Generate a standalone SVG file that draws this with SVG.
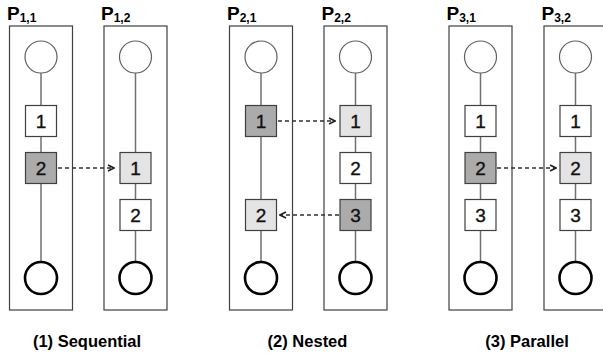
<svg xmlns="http://www.w3.org/2000/svg" width="603" height="356" viewBox="0 0 603 356">
<defs>
<style>
.box{fill:#fff;stroke:#404040;stroke-width:1.2}
.spine{stroke:#707070;stroke-width:1.5}
.top{fill:#fff;stroke:#606060;stroke-width:1.2}
.end{fill:#fff;stroke:#000;stroke-width:2.6}
.sq{stroke:#404040;stroke-width:1.2}
.w{fill:#fff}.d{fill:#ababab}.l{fill:#e4e4e4}
.num{font-family:"Liberation Sans",Arial,sans-serif;font-size:19px;fill:#111;stroke:#111;stroke-width:0.35;text-anchor:middle}
.ttl{font-family:"Liberation Sans",Arial,sans-serif;font-size:19px;font-weight:bold;fill:#000}
.sub{font-size:12px}
.cap{font-family:"Liberation Sans",Arial,sans-serif;font-size:16.5px;font-weight:bold;fill:#000;text-anchor:middle}
.arr{stroke:#303030;stroke-width:1.5;stroke-dasharray:4 3;fill:none}
</style>
<marker id="ah" viewBox="0 0 8 8" refX="7" refY="4" markerWidth="8" markerHeight="8" markerUnits="userSpaceOnUse" orient="auto">
<path d="M1,1 L7,4 L1,7" fill="none" stroke="#202020" stroke-width="1.6"/>
</marker>
</defs>
<rect width="603" height="356" fill="#fff"/>

<g id="p11">
<rect class="box" x="9.5" y="26" width="63" height="284"/>
<line class="spine" x1="41" y1="73" x2="41" y2="262"/>
<circle class="top" cx="41" cy="57" r="16"/>
<circle class="end" cx="41" cy="278" r="16"/>
<rect class="sq w" x="25.5" y="105.5" width="31" height="31"/><text class="num" x="41" y="128">1</text>
<rect class="sq d" x="25.5" y="152.5" width="31" height="31"/><text class="num" x="41" y="175">2</text>
<text class="ttl" x="7" y="20">P<tspan class="sub" dy="2">1,1</tspan></text>
</g>
<g id="p12">
<rect class="box" x="104" y="26" width="63" height="284"/>
<line class="spine" x1="135.5" y1="73" x2="135.5" y2="262"/>
<circle class="top" cx="135.5" cy="57" r="16"/>
<circle class="end" cx="135.5" cy="278" r="16"/>
<rect class="sq l" x="120" y="152.5" width="31" height="31"/><text class="num" x="135.5" y="175">1</text>
<rect class="sq w" x="120" y="199.5" width="31" height="31"/><text class="num" x="135.5" y="222">2</text>
<text class="ttl" x="101" y="20">P<tspan class="sub" dy="2">1,2</tspan></text>
</g>

<g id="p21">
<rect class="box" x="229.5" y="26" width="63" height="284"/>
<line class="spine" x1="261" y1="73" x2="261" y2="262"/>
<circle class="top" cx="261" cy="57" r="16"/>
<circle class="end" cx="261" cy="278" r="16"/>
<rect class="sq d" x="245.5" y="105.5" width="31" height="31"/><text class="num" x="261" y="128">1</text>
<rect class="sq l" x="245.5" y="199.5" width="31" height="31"/><text class="num" x="261" y="222">2</text>
<text class="ttl" x="227" y="20">P<tspan class="sub" dy="2">2,1</tspan></text>
</g>
<g id="p22">
<rect class="box" x="324" y="26" width="63" height="284"/>
<line class="spine" x1="355.5" y1="73" x2="355.5" y2="262"/>
<circle class="top" cx="355.5" cy="57" r="16"/>
<circle class="end" cx="355.5" cy="278" r="16"/>
<rect class="sq l" x="340" y="105.5" width="31" height="31"/><text class="num" x="355.5" y="128">1</text>
<rect class="sq w" x="340" y="152.5" width="31" height="31"/><text class="num" x="355.5" y="175">2</text>
<rect class="sq d" x="340" y="199.5" width="31" height="31"/><text class="num" x="355.5" y="222">3</text>
<text class="ttl" x="321.5" y="20">P<tspan class="sub" dy="2">2,2</tspan></text>
</g>

<g id="p31">
<rect class="box" x="449" y="26" width="63" height="284"/>
<line class="spine" x1="480.5" y1="73" x2="480.5" y2="262"/>
<circle class="top" cx="480.5" cy="57" r="16"/>
<circle class="end" cx="480.5" cy="278" r="16"/>
<rect class="sq w" x="465" y="105.5" width="31" height="31"/><text class="num" x="480.5" y="128">1</text>
<rect class="sq d" x="465" y="152.5" width="31" height="31"/><text class="num" x="480.5" y="175">2</text>
<rect class="sq w" x="465" y="199.5" width="31" height="31"/><text class="num" x="480.5" y="222">3</text>
<text class="ttl" x="446.5" y="20">P<tspan class="sub" dy="2">3,1</tspan></text>
</g>
<g id="p32">
<rect class="box" x="544" y="26" width="63" height="284"/>
<line class="spine" x1="575.5" y1="73" x2="575.5" y2="262"/>
<circle class="top" cx="575.5" cy="57" r="16"/>
<circle class="end" cx="575.5" cy="278" r="16"/>
<rect class="sq w" x="560" y="105.5" width="31" height="31"/><text class="num" x="575.5" y="128">1</text>
<rect class="sq l" x="560" y="152.5" width="31" height="31"/><text class="num" x="575.5" y="175">2</text>
<rect class="sq w" x="560" y="199.5" width="31" height="31"/><text class="num" x="575.5" y="222">3</text>
<text class="ttl" x="541.5" y="20">P<tspan class="sub" dy="2">3,2</tspan></text>
</g>

<g id="connectors">
<line class="arr" x1="58" y1="168" x2="114" y2="168" marker-end="url(#ah)"/>
<line class="arr" x1="278" y1="121" x2="335" y2="121" marker-end="url(#ah)"/>
<line class="arr" x1="339" y1="215" x2="280" y2="215" marker-end="url(#ah)"/>
<line class="arr" x1="497" y1="168" x2="556" y2="168" marker-end="url(#ah)"/>
</g>

<g id="captions">
<text class="cap" x="87" y="347">(1) Sequential</text>
<text class="cap" x="307.5" y="347">(2) Nested</text>
<text class="cap" x="527" y="347">(3) Parallel</text>
</g>
</svg>
